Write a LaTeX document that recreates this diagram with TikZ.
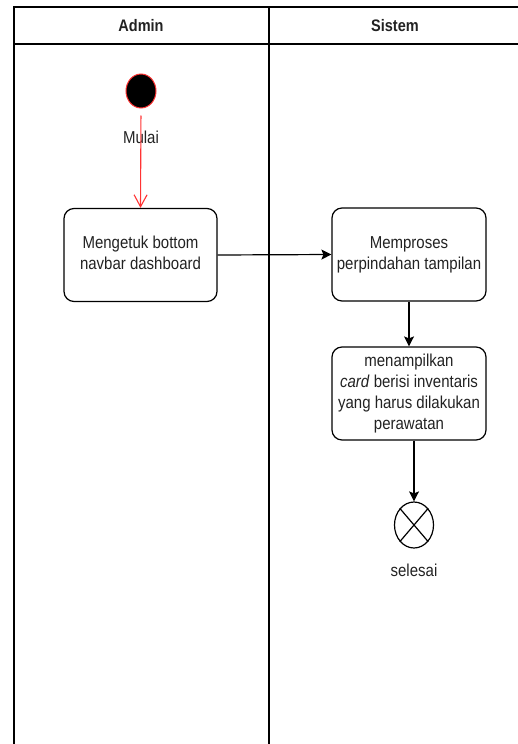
\documentclass[tikz,border=0pt]{standalone}
\usepackage{fontspec}
\setmainfont{Liberation Sans}
\usepackage{graphicx}
\usetikzlibrary{arrows.meta,shapes.geometric}
\definecolor{txt}{HTML}{222222}
\definecolor{startred}{HTML}{FF3333}
\newcommand{\vtext}[1]{\scalebox{1}[1.15]{\fontsize{15}{18.3}\selectfont\begin{tabular}{@{}c@{}}#1\end{tabular}}}
\tikzset{
  lane/.style={line width=1.4pt, draw=black},
  actbox/.style={draw=black, line width=1.2pt, rounded corners=10pt, rectangle, minimum width=153pt, minimum height=93pt, inner sep=0pt, text=txt, align=center},
  lbl/.style={text=txt, inner sep=0pt},
  flow/.style={draw=black, line width=1.2pt, -{Stealth[length=10pt,width=10pt,inset=2pt]}},
}
\begin{document}
\begin{tikzpicture}[x=1pt,y=-1pt]
\useasboundingbox (0,0) rectangle (517,744);
% swimlanes
\draw[lane] (560,7) -- (14,7) -- (14,760);
\draw[lane] (269,7) -- (269,760);
\draw[lane] (14,44) -- (560,44);
\node[lbl, font=\bfseries] (hadmin) at (141,26) {\scalebox{1}[1.15]{\fontsize{14.5}{17}\selectfont Admin}};
\node[lbl, font=\bfseries] (hsistem) at (395,26) {\scalebox{1}[1.15]{\fontsize{14.5}{17}\selectfont Sistem}};
% start
\node[ellipse, draw=startred, fill=black, line width=1pt, minimum width=30pt, minimum height=34pt, inner sep=0pt] (start) at (141,91) {};
\node[lbl] (mulai) at (141,139) {\vtext{Mulai}};
% activities
\node[actbox] (b1) at (140.5,255) {\vtext{Mengetuk bottom\\navbar dashboard}};
\node[actbox, minimum width=154pt] (b2) at (409,254.5) {\vtext{Memproses\\perpindahan tampilan}};
\node[actbox, minimum width=154pt] (b3) at (409,393.5) {\vtext{menampilkan\\\textit{card} berisi inventaris\\yang harus dilakukan\\perawatan}};
% end
\node[ellipse, draw=black, line width=1.2pt, minimum width=39pt, minimum height=46pt, inner sep=0pt] (end) at (414,525) {};
\draw[line width=1.2pt] (end.north east) -- (end.south west) (end.north west) -- (end.south east);
\node[lbl] (selesai) at (414,572) {\vtext{selesai}};
% connectors
\draw[startred, line width=1.1pt, shorten <=7pt, -{Straight Barb[length=12pt,width=13pt,line width=1.1pt]}] (start.south) -- (b1.north);
\draw[flow] (b1.east) -- (b2.west);
\draw[flow] (b2.south) -- (b3.north);
\draw[flow] (b3.south -| end.north) -- (end.north);
\end{tikzpicture}
\end{document}
